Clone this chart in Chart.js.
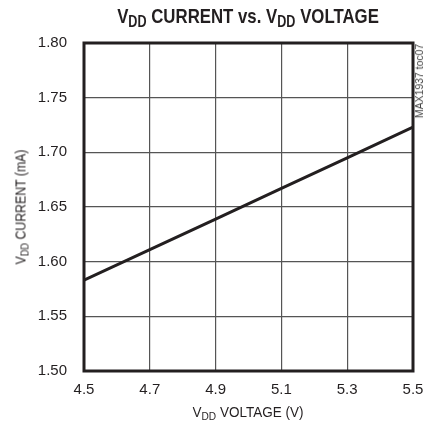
<!DOCTYPE html>
<html>
<head>
<meta charset="utf-8">
<script src="https://cdn.jsdelivr.net/npm/chart.js@4.4.1/dist/chart.umd.min.js"></script>
<style>
  html, body { margin: 0; padding: 0; background: #fff; }
  #wrap { position: relative; width: 425px; height: 432px; font-family: "Liberation Sans", sans-serif; color: #231f20; }
  #myChart { position: absolute; left: 0; top: 0; }
  .lbl { position: absolute; white-space: nowrap; }
  .lbl sub { font-size: 75%; vertical-align: -0.25em; line-height: 0; }
  #title { left: 248px; top: 4px; transform: translateX(-50%) scaleX(0.8); font-weight: bold; font-size: 21px; }
  #ytitle { left: 20px; top: 207px; transform: translate(-50%, -50%) rotate(-90deg) scaleX(0.82); font-size: 15px; }
  #xtitle { left: 248px; top: 403px; transform: translateX(-50%) scaleX(0.9); font-size: 15px; }
  #code { left: 419px; top: 81px; transform: translate(-50%, -50%) rotate(-90deg) scaleX(0.95); font-size: 11px; color: #444; }
</style>
</head>
<body>
<div id="wrap">
  <canvas id="myChart" width="425" height="432"></canvas>
  <div class="lbl" id="title">V<sub>DD</sub> CURRENT vs. V<sub>DD</sub> VOLTAGE</div>
  <div class="lbl" id="ytitle">V<sub>DD</sub> CURRENT (mA)</div>
  <div class="lbl" id="xtitle">V<sub>DD</sub> VOLTAGE (V)</div>
  <div class="lbl" id="code">MAX1937 toc07</div>
</div>
<script>
// valores
const voltage = [4.5, 4.7, 4.9, 5.1, 5.3, 5.5];
const current = [1.583, 1.611, 1.639, 1.667, 1.695, 1.723];
const xTicks = [4.5, 4.7, 4.9, 5.1, 5.3, 5.5];
const yTicks = [1.50, 1.55, 1.60, 1.65, 1.70, 1.75, 1.80];

const FONT = '"Liberation Sans", sans-serif';

// moldura grossa à volta da área do gráfico
const frame = {
  id: 'frame',
  afterDatasetsDraw(chart) {
    const a = chart.chartArea;
    const c = chart.ctx;
    c.save();
    c.strokeStyle = '#231f20';
    c.lineWidth = 3;
    c.strokeRect(a.left, a.top, a.right - a.left, a.bottom - a.top);
    c.restore();
  }
};

const points = voltage.map((v, i) => ({ x: v, y: current[i] }));

const ctx = document.getElementById('myChart').getContext('2d');
new Chart(ctx, {
  type: 'line',
  data: {
    datasets: [{
      data: points,
      borderColor: '#231f20',
      borderWidth: 3,
      pointRadius: 0,
      fill: false,
      tension: 0
    }]
  },
  options: {
    responsive: false,
    animation: false,
    plugins: { legend: { display: false }, tooltip: { enabled: false } },
    layout: { padding: { left: 0, right: 12, top: 43, bottom: 0 } },
    scales: {
      x: {
        type: 'linear',
        min: 4.5,
        max: 5.5,
        afterBuildTicks: s => { s.ticks = xTicks.map(v => ({ value: v })); },
        afterFit: s => { s.height = 61; s.paddingLeft = 0; s.paddingRight = 0; },
        ticks: {
          padding: 10,
          color: '#231f20',
          font: { family: FONT, size: 15 },
          callback: v => v.toFixed(1)
        },
        grid: { color: '#555', lineWidth: 1.2, drawTicks: false },
        border: { display: false }
      },
      y: {
        min: 1.5,
        max: 1.8,
        afterBuildTicks: s => { s.ticks = yTicks.map(v => ({ value: v })); },
        afterFit: s => { s.width = 84; s.paddingTop = 0; s.paddingBottom = 0; },
        ticks: {
          padding: 17,
          color: '#231f20',
          font: { family: FONT, size: 15 },
          callback: v => v.toFixed(2)
        },
        grid: { color: '#555', lineWidth: 1.2, drawTicks: false },
        border: { display: false }
      }
    }
  },
  plugins: [frame]
});
</script>
</body>
</html>
